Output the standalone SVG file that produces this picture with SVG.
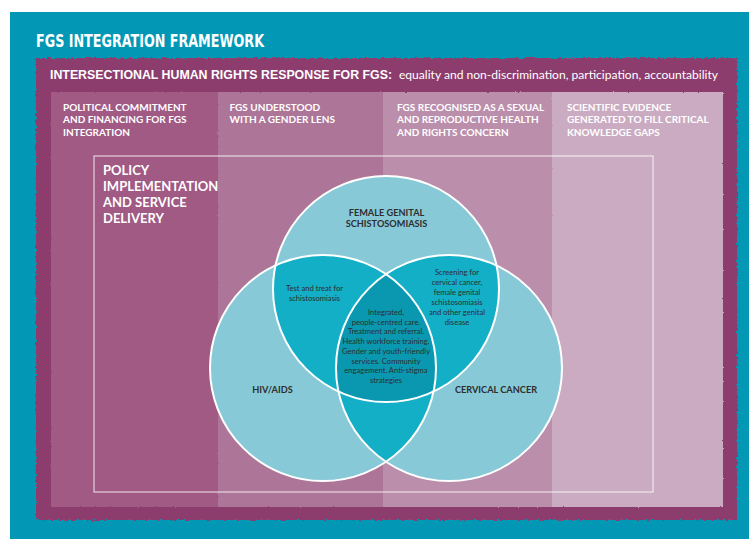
<svg xmlns="http://www.w3.org/2000/svg" width="749" height="539" viewBox="0 0 749 539">
  <style>
    .title { font-family: "DejaVu Sans Condensed", "Liberation Sans Narrow", "Liberation Sans", sans-serif; font-weight: bold; fill: #ffffff; }
    .sub { font-family: "Liberation Sans", Arial, sans-serif; font-weight: bold; font-size: 12.2px; fill: #ffffff; }
    .subtail { font-family: Lato, "Open Sans", "Liberation Sans", sans-serif; font-size: 11.4px; fill: #ffffff; }
    .head { font-family: Lato, "Open Sans", "Liberation Sans", sans-serif; font-weight: bold; font-size: 10px; fill: #ffffff; }
    .policy { font-family: Lato, "Open Sans", "Liberation Sans", sans-serif; font-weight: bold; font-size: 13px; fill: #ffffff; }
    .label { font-family: Lato, "Open Sans", "Liberation Sans", sans-serif; font-weight: bold; font-size: 9.2px; fill: #2e2e2e; text-anchor: middle; }
    .body { font-family: Lato, "Open Sans", "Liberation Sans", sans-serif; font-size: 7.6px; fill: #2e2e2e; text-anchor: middle; }
    .ring { fill: none; stroke: #ffffff; stroke-width: 2; }
  </style>
  <defs>
    <filter id="rough" x="-3%" y="-3%" width="106%" height="106%">
      <feTurbulence type="fractalNoise" baseFrequency="0.35" numOctaves="2" seed="3" result="n"/>
      <feDisplacementMap in="SourceGraphic" in2="n" scale="4" xChannelSelector="R" yChannelSelector="G"/>
    </filter>
    <filter id="roughSoft" x="-3%" y="-3%" width="106%" height="106%">
      <feTurbulence type="fractalNoise" baseFrequency="0.4" numOctaves="2" seed="7" result="n"/>
      <feDisplacementMap in="SourceGraphic" in2="n" scale="2" xChannelSelector="R" yChannelSelector="G"/>
    </filter>
    <clipPath id="clipTop"><circle cx="386" cy="289" r="113"/></clipPath>
    <clipPath id="clipLeft"><circle cx="323" cy="368" r="113"/></clipPath>
  </defs>

  <!-- page background -->
  <rect x="0" y="0" width="749" height="539" fill="#ffffff"/>
  <rect x="10" y="12" width="739" height="527" fill="#0298b5"/>

  <g id="title">
    <text class="title" x="36" y="47" font-size="18" textLength="228" lengthAdjust="spacingAndGlyphs">FGS INTEGRATION FRAMEWORK</text>
  </g>

  <!-- purple frame with torn edges -->
  <g id="frame">
    <rect x="36" y="58" width="701" height="462" fill="#8c3e6e" filter="url(#rough)"/>
    <text class="sub" x="50" y="79" textLength="342" lengthAdjust="spacingAndGlyphs">INTERSECTIONAL HUMAN RIGHTS RESPONSE FOR FGS:</text>
    <text class="subtail" x="399" y="79" textLength="319" lengthAdjust="spacingAndGlyphs">equality and non-discrimination, participation, accountability</text>
  </g>

  <!-- four pillar columns -->
  <g id="columns" filter="url(#roughSoft)">
    <rect x="51" y="92" width="167" height="415" fill="#a05a84"/>
    <rect x="218" y="92" width="165" height="415" fill="#ad7597"/>
    <rect x="383" y="92" width="169" height="415" fill="#bb8eab"/>
    <rect x="552" y="92" width="171" height="415" fill="#cbabc2"/>
  </g>

  <g id="col-political">
    <text class="head" x="63" y="111">POLITICAL COMMITMENT</text>
    <text class="head" x="63" y="123.3">AND FINANCING FOR FGS</text>
    <text class="head" x="63" y="135.6">INTEGRATION</text>
  </g>
  <g id="col-gender">
    <text class="head" x="229.5" y="111">FGS UNDERSTOOD</text>
    <text class="head" x="229.5" y="123.3">WITH A GENDER LENS</text>
  </g>
  <g id="col-srhr">
    <text class="head" x="397" y="111">FGS RECOGNISED AS A SEXUAL</text>
    <text class="head" x="397" y="123.3">AND REPRODUCTIVE HEALTH</text>
    <text class="head" x="397" y="135.6">AND RIGHTS CONCERN</text>
  </g>
  <g id="col-evidence">
    <text class="head" x="567" y="111">SCIENTIFIC EVIDENCE</text>
    <text class="head" x="567" y="123.3">GENERATED TO FILL CRITICAL</text>
    <text class="head" x="567" y="135.6">KNOWLEDGE GAPS</text>
  </g>

  <!-- policy implementation box -->
  <g id="policy">
    <rect x="94" y="156" width="559" height="336" fill="none" stroke="#ffffff" stroke-opacity="0.85" stroke-width="1"/>
    <text class="policy" x="103" y="175">POLICY</text>
    <text class="policy" x="103" y="191">IMPLEMENTATION</text>
    <text class="policy" x="103" y="207">AND SERVICE</text>
    <text class="policy" x="103" y="223">DELIVERY</text>
  </g>

  <!-- Venn diagram -->
  <g id="venn">
    <circle id="c-fgs" cx="386" cy="289" r="113" fill="#88c9d8"/>
    <circle id="c-hiv" cx="323" cy="368" r="113" fill="#88c9d8"/>
    <circle id="c-cc" cx="449" cy="368" r="113" fill="#88c9d8"/>
    <g clip-path="url(#clipTop)">
      <circle cx="323" cy="368" r="113" fill="#12afc6"/>
      <circle cx="449" cy="368" r="113" fill="#12afc6"/>
    </g>
    <g clip-path="url(#clipLeft)">
      <circle cx="449" cy="368" r="113" fill="#12afc6"/>
    </g>
    <g clip-path="url(#clipTop)">
      <g clip-path="url(#clipLeft)">
        <circle cx="449" cy="368" r="113" fill="#0a98b0"/>
      </g>
    </g>
    <circle class="ring" cx="386" cy="289" r="113"/>
    <circle class="ring" cx="323" cy="368" r="113"/>
    <circle class="ring" cx="449" cy="368" r="113"/>
  </g>

  <g id="node-fgs">
    <text class="label" x="386.5" y="216" font-size="9">FEMALE GENITAL</text>
    <text class="label" x="386.5" y="227" font-size="9">SCHISTOSOMIASIS</text>
  </g>
  <g id="node-hiv">
    <text class="label" x="272.5" y="393">HIV/AIDS</text>
  </g>
  <g id="node-cc">
    <text class="label" x="496" y="393">CERVICAL CANCER</text>
  </g>
  <g id="node-fgs-hiv">
    <text class="body" x="314.5" y="291">Test and treat for</text>
    <text class="body" x="314.5" y="300.5">schistosomiasis</text>
  </g>
  <g id="node-fgs-cc">
    <text class="body" x="457" y="275">Screening for</text>
    <text class="body" x="457" y="285">cervical cancer,</text>
    <text class="body" x="457" y="295">female genital</text>
    <text class="body" x="457" y="305">schistosomiasis</text>
    <text class="body" x="457" y="315">and other genital</text>
    <text class="body" x="457" y="325">disease</text>
  </g>
  <g id="node-core">
    <text class="body" x="386" y="315">Integrated,</text>
    <text class="body" x="386" y="324.7">people-centred care.</text>
    <text class="body" x="386" y="334.4">Treatment and referral.</text>
    <text class="body" x="386" y="344.1">Health workforce training.</text>
    <text class="body" x="386" y="353.8">Gender and youth-friendly</text>
    <text class="body" x="386" y="363.5">services. Community</text>
    <text class="body" x="386" y="373.2">engagement. Anti-stigma</text>
    <text class="body" x="386" y="382.9">strategies</text>
  </g>
</svg>
